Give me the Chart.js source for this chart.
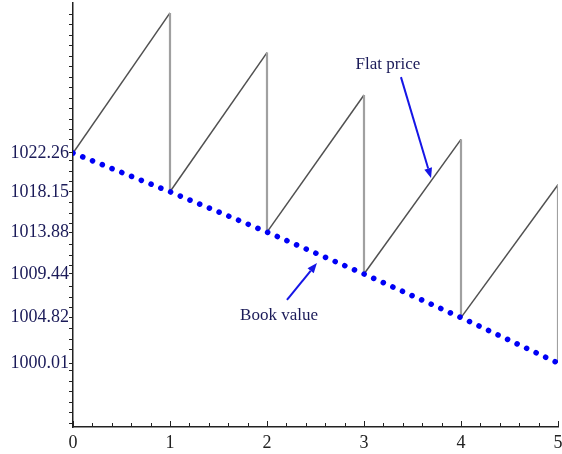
<!DOCTYPE html>
<html>
<head>
<meta charset="utf-8">
<script src="https://cdn.jsdelivr.net/npm/chart.js@4/dist/chart.umd.min.js"></script>
<style>
  html, body { margin: 0; padding: 0; background: #ffffff; }
  #wrap { width: 562px; height: 454px; position: relative; }
</style>
</head>
<body>
<div id="wrap"><canvas id="c" width="562" height="454"></canvas></div>
<script>
// ---- data ----
const periods = [0, 1, 2, 3, 4, 5];
const bookValues = [1022.26, 1018.15, 1013.88, 1009.44, 1004.82, 1000.01];
// flat price just before each coupon date (t = 1..5)
const flatPeaks = [1037.1, 1032.9, 1028.4, 1023.7, 1018.9];
const yTickLabels = ['1022.26', '1018.15', '1013.88', '1009.44', '1004.82', '1000.01'];
const xTickLabels = ['0', '1', '2', '3', '4', '5'];
const annotations = [
  { text: 'Flat price', tx: 3.247, ty: 1031.6, ax0: 3.381, ay0: 1030.3, ax1: 3.691, ay1: 1019.6 },
  { text: 'Book value', tx: 2.124, ty: 1005.0, ax0: 2.206, ay0: 1006.7, ax1: 2.515, ay1: 1010.6 }
];

// ---- build datasets ----
const bookData = periods.map((p, i) => ({ x: p, y: bookValues[i] }));
const flatData = [{ x: periods[0], y: bookValues[0] }];
for (let i = 1; i < periods.length; i++) {
  flatData.push({ x: periods[i], y: flatPeaks[i - 1] });
  flatData.push({ x: periods[i], y: bookValues[i] });
}

const Y_MIN = 993.23, Y_MAX = 1038.15;
const TEXT_COLOR = '#1a1a58';
const SERIF = '"Liberation Serif", "DejaVu Serif", serif';

const xTickPlugin = {
  id: 'xTicksUp',
  afterDraw(chart) {
    const ctx = chart.ctx;
    const xs = chart.scales.x;
    const bottom = chart.chartArea.bottom;
    ctx.save();
    ctx.strokeStyle = '#222';
    ctx.lineWidth = 1;
    xs.ticks.forEach(t => {
      const px = Math.round(xs.getPixelForValue(t.value)) + 0.5;
      const major = Math.abs(t.value - Math.round(t.value)) < 1e-6;
      ctx.beginPath();
      ctx.moveTo(px, bottom);
      ctx.lineTo(px, bottom - (major ? 6 : 4));
      ctx.stroke();
    });
    ctx.restore();
  }
};

const annotPlugin = {
  id: 'annot',
  afterDatasetsDraw(chart) {
    const ctx = chart.ctx;
    const xs = chart.scales.x, ys = chart.scales.y;
    ctx.save();
    annotations.forEach(a => {
      ctx.font = '17px ' + SERIF;
      ctx.fillStyle = TEXT_COLOR;
      ctx.textAlign = 'center';
      ctx.textBaseline = 'middle';
      ctx.fillText(a.text, xs.getPixelForValue(a.tx), ys.getPixelForValue(a.ty));
      const x0 = xs.getPixelForValue(a.ax0), y0 = ys.getPixelForValue(a.ay0);
      const x1 = xs.getPixelForValue(a.ax1), y1 = ys.getPixelForValue(a.ay1);
      const ang = Math.atan2(y1 - y0, x1 - x0);
      const hl = 10, hw = 4;
      const bx = x1 - hl * Math.cos(ang), by = y1 - hl * Math.sin(ang);
      ctx.strokeStyle = '#1515e6';
      ctx.fillStyle = '#1515e6';
      ctx.lineWidth = 2;
      ctx.beginPath();
      ctx.moveTo(x0, y0);
      ctx.lineTo(bx, by);
      ctx.stroke();
      ctx.beginPath();
      ctx.moveTo(x1, y1);
      ctx.lineTo(bx + hw * Math.sin(ang), by - hw * Math.cos(ang));
      ctx.lineTo(bx - hw * Math.sin(ang), by + hw * Math.cos(ang));
      ctx.closePath();
      ctx.fill();
    });
    ctx.restore();
  }
};

new Chart(document.getElementById('c'), {
  type: 'line',
  data: {
    datasets: [
      {
        label: 'Book value',
        data: bookData,
        borderColor: '#0000f5',
        borderWidth: 5.6,
        borderDash: [0.01, 10.5],
        borderCapStyle: 'round',
        pointRadius: 0,
        tension: 0,
        fill: false
      },
      {
        label: 'Flat price',
        data: flatData,
        borderColor: '#555555',
        borderWidth: 1.5,
        pointRadius: 0,
        tension: 0,
        fill: false,
        segment: {
          borderColor: c => (c.p0.parsed.x === c.p1.parsed.x ? '#a0a0a0' : '#505050'),
          borderWidth: c => (c.p0.parsed.x === c.p1.parsed.x ? 2.2 : 1.5)
        }
      }
    ]
  },
  options: {
    responsive: false,
    animation: false,
    layout: { padding: { top: 3, right: 4, left: 0, bottom: 0 } },
    plugins: { legend: { display: false }, tooltip: { enabled: false } },
    scales: {
      x: {
        type: 'linear',
        min: 0,
        max: 5,
        afterBuildTicks: s => {
          const t = [];
          for (let i = 0; i <= 25; i++) t.push({ value: i / 5 });
          s.ticks = t;
        },
        afterFit: s => { s.height = 27; s.paddingLeft = 0; s.paddingRight = 0; },
        grid: { display: false, drawTicks: false },
        border: { display: true, color: '#222', width: 1.5 },
        ticks: {
          autoSkip: false,
          maxRotation: 0,
          padding: 5,
          color: '#222',
          font: { family: SERIF, size: 18 },
          callback: v => {
            const i = periods.indexOf(v);
            return i >= 0 ? xTickLabels[i] : '';
          }
        }
      },
      y: {
        type: 'linear',
        min: Y_MIN,
        max: Y_MAX,
        afterBuildTicks: s => {
          const vals = bookValues.slice();
          for (let v = 1036.98; v > Y_MIN; v -= 1.112) {
            if (bookValues.every(b => Math.abs(b - v) > 0.45)) vals.push(v);
          }
          vals.sort((a, b) => a - b);
          s.ticks = vals.map(v => ({ value: v }));
        },
        afterFit: s => { s.width = 73; s.paddingTop = 0; s.paddingBottom = 0; },
        grid: { display: true, drawOnChartArea: false, drawTicks: true, tickLength: 4, color: '#222', lineWidth: 1 },
        border: { display: true, color: '#222', width: 1.5 },
        ticks: {
          autoSkip: false,
          padding: 0,
          color: TEXT_COLOR,
          font: { family: SERIF, size: 18 },
          callback: v => {
            const i = bookValues.indexOf(v);
            return i >= 0 ? yTickLabels[i] : '';
          }
        }
      }
    }
  },
  plugins: [xTickPlugin, annotPlugin]
});
</script>
</body>
</html>
